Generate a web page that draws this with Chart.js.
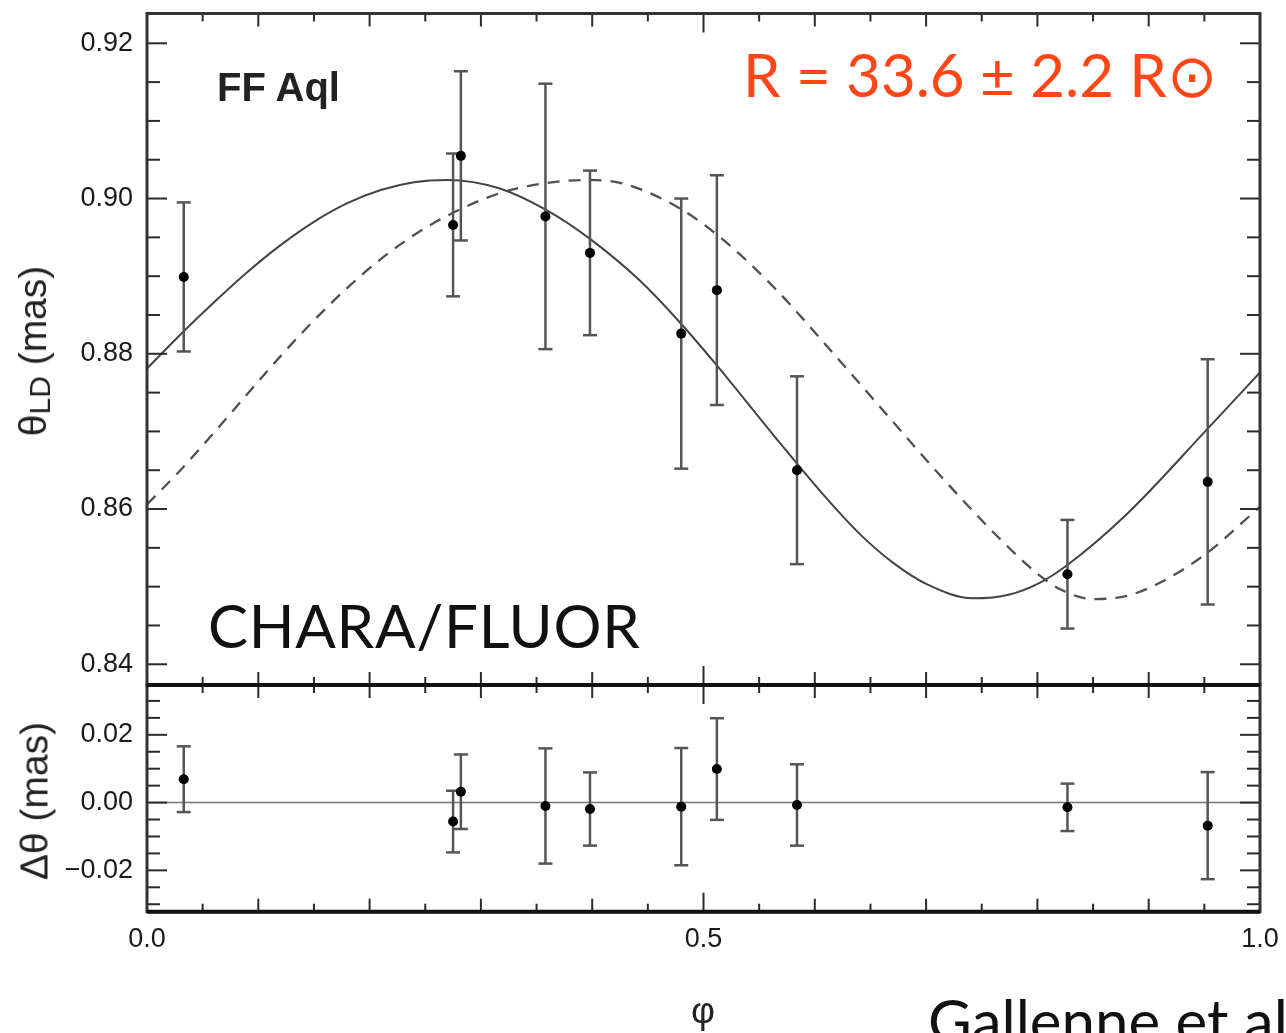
<!DOCTYPE html>
<html lang="en">
<head>
<meta charset="UTF-8">
<title>FF Aql angular diameter</title>
<script src="https://cdn.jsdelivr.net/npm/chart.js"></script>
<style>
  html, body { margin: 0; padding: 0; background: #fff; overflow: hidden; }
  #page { position: relative; width: 1286px; height: 1033px; overflow: hidden; }
  canvas { position: absolute; left: 0; }
  #topChart { top: 0; }
  #botChart { top: 670px; }
  .note { position: absolute; white-space: nowrap; line-height: 1; }
  .gill { font-family: Lato, 'Open Sans', sans-serif; font-size: 60px; color: #111; }
  .ytitle { position: absolute; white-space: nowrap; line-height: 1;
            font-family: 'Liberation Sans', Arial, sans-serif; font-size: 39px; color: #222;
            transform: translate(-50%, -50%) rotate(-90deg); }
  .ytitle sub { font-size: 30px; vertical-align: -4px; }
</style>
</head>
<body>
<div id="page">
  <canvas id="topChart" width="1286" height="700"></canvas>
  <canvas id="botChart" width="1286" height="363"></canvas>

  <div class="note" style="left:217px; top:65px; font: bold 40px 'Liberation Sans', Arial, sans-serif; color:#222;">FF Aql</div>
  <div class="note gill" style="left:743px; top:44px; color:#fe4616;">R = 33.6 ± 2.2 R⊙</div>
  <div class="note gill" style="left:208px; top:595px; letter-spacing:0.7px;">CHARA/FLUOR</div>
  <div class="note gill" style="left:928px; top:990px;">Gallenne et al</div>

  <div class="ytitle" style="left:34px; top:351px;">θ<sub>LD</sub> (mas)</div>
  <div class="ytitle" style="left:34px; top:801px;">Δθ (mas)</div>
  <div class="note" style="left:703px; top:990px; transform:translateX(-50%); font: 37px 'Liberation Sans', Arial, sans-serif; color:#222;">φ</div>
</div>

<script>
// pulsation phase of each interferometric measurement
const phase = [0.033, 0.275, 0.282, 0.358, 0.398, 0.480, 0.512, 0.584, 0.827, 0.953];
const thetaObs = [0.8899, 0.8966, 0.9055, 0.8977, 0.8930, 0.8826, 0.8882, 0.8650, 0.8516, 0.8635];
const thetaErr = [0.0096, 0.0092, 0.0109, 0.0171, 0.0106, 0.0174, 0.0148, 0.0121, 0.0070, 0.0158];

// residuals (obs - model)
const resid = [0.0069, -0.0056, 0.0032, -0.0010, -0.0019, -0.0012, 0.0099, -0.0007, -0.0014, -0.0068];
const residErr = [0.0097, 0.0091, 0.0110, 0.0170, 0.0108, 0.0173, 0.0150, 0.0120, 0.0070, 0.0158];

// fitted model curve (solid)
const modelPhase = [0.000, 0.033, 0.060, 0.090, 0.120, 0.150, 0.180, 0.210, 0.240, 0.270, 0.317, 0.359, 0.398, 0.443,
                    0.479, 0.512, 0.563, 0.611, 0.641, 0.671, 0.701, 0.742, 0.775, 0.802, 0.826, 0.880, 0.952, 1.000];
const modelTheta = [0.8781, 0.8829, 0.8866, 0.8905, 0.8940, 0.8970, 0.8994, 0.9011, 0.9021, 0.9024, 0.9013, 0.8985, 0.8948, 0.8894,
                    0.8840, 0.8785, 0.8695, 0.8613, 0.8567, 0.8530, 0.8503, 0.8485, 0.8490, 0.8505, 0.8527, 0.8593, 0.8702, 0.8776];

// phase-shifted model (dashed)
const shiftPhase = [0.000, 0.030, 0.060, 0.090, 0.120, 0.150, 0.180, 0.210, 0.240, 0.270, 0.317, 0.359, 0.398, 0.431, 0.479,
                    0.515, 0.563, 0.623, 0.668, 0.701, 0.730, 0.766, 0.799, 0.820, 0.850, 0.880, 0.910, 0.952, 1.000];
const shiftTheta = [0.8606, 0.8650, 0.8698, 0.8748, 0.8797, 0.8843, 0.8885, 0.8922, 0.8953, 0.8978, 0.9007, 0.9020, 0.9024, 0.9018, 0.8987,
                    0.8950, 0.8886, 0.8790, 0.8716, 0.8662, 0.8616, 0.8562, 0.8518, 0.8497, 0.8484, 0.8488, 0.8505, 0.8543, 0.8603];

const xTicks = [0, 0.5, 1];
const xTickLabels = ['0.0', '0.5', '1.0'];
const yTicksTop = [0.84, 0.86, 0.88, 0.90, 0.92];
const yTicksBot = [-0.02, 0, 0.02];
const yTickLabelsBot = ['\u22120.02', '0.00', '0.02'];

Chart.defaults.font.family = "'Liberation Sans', Arial, sans-serif";
Chart.defaults.color = '#1a1a1a';

const toXY = (xs, ys) => xs.map((v, i) => ({ x: v, y: ys[i] }));

function seg(ctx, x1, y1, x2, y2) {
    ctx.beginPath();
    ctx.moveTo(x1, y1);
    ctx.lineTo(x2, y2);
    ctx.stroke();
}

// error bars under the points dataset (index 0)
const errorBars = {
    id: 'errorBars',
    beforeDatasetDraw(chart, args, opts) {
        if (args.index !== 0) return;
        const { ctx, scales: { x, y } } = chart;
        ctx.save();
        ctx.strokeStyle = '#555';
        ctx.lineWidth = 2.5;
        chart.data.datasets[0].data.forEach((p, i) => {
            const px = x.getPixelForValue(p.x);
            const hi = y.getPixelForValue(p.y + opts.err[i]);
            const lo = y.getPixelForValue(p.y - opts.err[i]);
            seg(ctx, px, hi, px, lo);
            seg(ctx, px - 7, hi, px + 7, hi);
            seg(ctx, px - 7, lo, px + 7, lo);
        });
        ctx.restore();
    }
};

// box frame with inward ticks on all four sides
const frameTicks = {
    id: 'frameTicks',
    afterDatasetsDraw(chart, args, opts) {
        const { ctx, chartArea: a, scales: { x, y } } = chart;
        ctx.save();
        ctx.strokeStyle = '#2b2b2b';
        ctx.lineWidth = 2;
        for (let i = 1; i < 20; i++) {
            const px = x.getPixelForValue(i / 20);
            const len = i % 10 === 0 ? 19 : (i % 2 === 0 ? 13 : 8);
            seg(ctx, px, a.top, px, a.top + len);
            seg(ctx, px, a.bottom, px, a.bottom - len);
        }
        const k0 = Math.ceil(y.min / 0.005 - 1e-6), k1 = Math.floor(y.max / 0.005 + 1e-6);
        for (let k = k0; k <= k1; k++) {
            const py = y.getPixelForValue(k * 0.005);
            const len = k % 4 === 0 ? 20 : 13;
            seg(ctx, a.left, py, a.left + len, py);
            seg(ctx, a.right, py, a.right - len, py);
        }
        ctx.lineWidth = 3;
        ctx.strokeStyle = '#333';
        ctx.strokeRect(a.left, a.top, a.right - a.left, a.bottom - a.top);
        ctx.strokeStyle = '#111';
        ctx.lineWidth = 4;
        if (opts.thickTop) seg(ctx, a.left, a.top, a.right, a.top);
        if (opts.thickBottom) seg(ctx, a.left, a.bottom, a.right, a.bottom);
        ctx.restore();
    }
};

// fixed-size axes so both panels share the same plot box
const fixY = s => { s.width = 147; s.paddingTop = 0; s.paddingBottom = 0; };

const pointStyle = { pointRadius: 5, pointHoverRadius: 5, backgroundColor: '#000', borderWidth: 0, showLine: false, order: 0 };

new Chart(document.getElementById('topChart'), {
    type: 'scatter',
    data: {
        datasets: [
            Object.assign({ data: toXY(phase, thetaObs) }, pointStyle),
            { data: toXY(modelPhase, modelTheta), showLine: true, borderColor: '#444', borderWidth: 2,
              pointRadius: 0, cubicInterpolationMode: 'monotone', order: 1 },
            { data: toXY(shiftPhase, shiftTheta), showLine: true, borderColor: '#505050', borderWidth: 2.3,
              borderDash: [12, 9], pointRadius: 0, cubicInterpolationMode: 'monotone', order: 2 }
        ]
    },
    options: {
        responsive: false,
        animation: false,
        events: [],
        layout: { padding: { top: 13.5, right: 26, bottom: 15, left: 0 } },
        plugins: { legend: { display: false }, tooltip: { enabled: false },
                   errorBars: { err: thetaErr }, frameTicks: { thickBottom: true } },
        scales: {
            x: { type: 'linear', min: 0, max: 1, display: false },
            y: {
                type: 'linear', min: 0.83733, max: 0.92384,
                afterFit: fixY,
                afterBuildTicks: s => { s.ticks = yTicksTop.map(v => ({ value: v })); },
                grid: { display: false, drawTicks: false },
                border: { display: false },
                ticks: { padding: 14, font: { size: 27 }, callback: v => v.toFixed(2) }
            }
        }
    },
    plugins: [errorBars, frameTicks]
});

new Chart(document.getElementById('botChart'), {
    type: 'scatter',
    data: {
        datasets: [
            Object.assign({ data: toXY(phase, resid) }, pointStyle),
            { data: toXY([0, 1], [0, 0]), showLine: true, borderColor: '#777', borderWidth: 1.5,
              pointRadius: 0, order: 1 }
        ]
    },
    options: {
        responsive: false,
        animation: false,
        events: [],
        layout: { padding: { top: 15, right: 26, bottom: 0, left: 0 } },
        plugins: { legend: { display: false }, tooltip: { enabled: false },
                   errorBars: { err: residErr }, frameTicks: { thickTop: true, thickBottom: true } },
        scales: {
            x: {
                type: 'linear', min: 0, max: 1,
                afterFit: s => { s.height = 121.3; s.paddingLeft = 0; s.paddingRight = 0; },
                afterBuildTicks: s => { s.ticks = xTicks.map(v => ({ value: v })); },
                grid: { display: false, drawTicks: false },
                border: { display: false },
                ticks: { padding: 12, maxRotation: 0, autoSkip: false, font: { size: 27 },
                         callback: (v, i) => xTickLabels[i] }
            },
            y: {
                type: 'linear', min: -0.0322, max: 0.0347,
                afterFit: fixY,
                afterBuildTicks: s => { s.ticks = yTicksBot.map(v => ({ value: v })); },
                grid: { display: false, drawTicks: false },
                border: { display: false },
                ticks: { padding: 14, font: { size: 27 }, callback: (v, i) => yTickLabelsBot[i] }
            }
        }
    },
    plugins: [errorBars, frameTicks]
});
</script>
</body>
</html>
